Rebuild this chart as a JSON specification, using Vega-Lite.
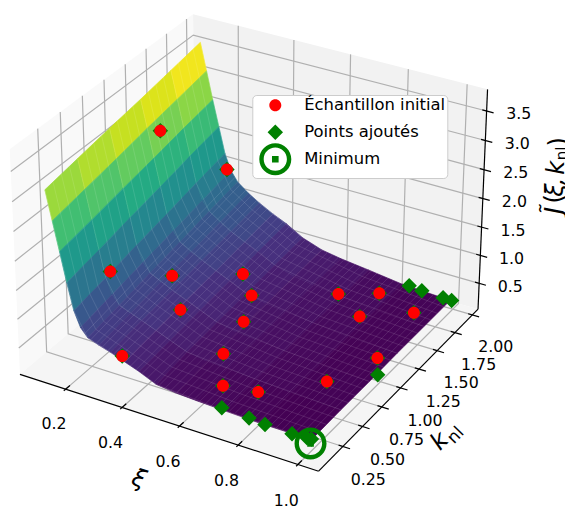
{"$schema":"https://vega.github.io/schema/vega-lite/v6.json","width":565,"height":509,"padding":0,"autosize":"none","background":"white","config":{"view":{"stroke":null},"font":"DejaVu Sans"},
"encoding":{"x":{"field":"px","type":"quantitative","scale":{"domain":[0,565],"range":[0,565],"nice":false,"zero":false},"axis":null},"y":{"field":"py","type":"quantitative","scale":{"domain":[0,509],"range":[0,509],"nice":false,"zero":false},"axis":null}},
"datasets":{
"panes":[{"wall":"x","xi":[0.035,0.035,0.035,0.035],"k":[-0.0534,2.083,2.083,-0.0534],"z":[0.034,0.034,3.863,3.863],"i":[0,1,2,3]},{"wall":"y","xi":[0.035,1.0685,1.0685,0.035],"k":[2.083,2.083,2.083,2.083],"z":[0.034,0.034,3.863,3.863],"i":[0,1,2,3]},{"wall":"z","xi":[0.035,1.0685,1.0685,0.035],"k":[-0.0534,-0.0534,2.083,2.083],"z":[0.034,0.034,0.034,0.034],"i":[0,1,2,3]}],
"grid":[
{"id":"x1","xi":[0.2,0.2,0.2],"k":[-0.0534,2.083,2.083],"z":[0.034,0.034,3.863]},{"id":"x2","xi":[0.4,0.4,0.4],"k":[-0.0534,2.083,2.083],"z":[0.034,0.034,3.863]},{"id":"x3","xi":[0.6,0.6,0.6],"k":[-0.0534,2.083,2.083],"z":[0.034,0.034,3.863]},{"id":"x4","xi":[0.8,0.8,0.8],"k":[-0.0534,2.083,2.083],"z":[0.034,0.034,3.863]},{"id":"x5","xi":[1.0,1.0,1.0],"k":[-0.0534,2.083,2.083],"z":[0.034,0.034,3.863]},
{"id":"k1","xi":[1.0685,0.035,0.035],"k":[0.25,0.25,0.25],"z":[0.034,0.034,3.863]},{"id":"k2","xi":[1.0685,0.035,0.035],"k":[0.5,0.5,0.5],"z":[0.034,0.034,3.863]},{"id":"k3","xi":[1.0685,0.035,0.035],"k":[0.75,0.75,0.75],"z":[0.034,0.034,3.863]},{"id":"k4","xi":[1.0685,0.035,0.035],"k":[1.0,1.0,1.0],"z":[0.034,0.034,3.863]},{"id":"k5","xi":[1.0685,0.035,0.035],"k":[1.25,1.25,1.25],"z":[0.034,0.034,3.863]},{"id":"k6","xi":[1.0685,0.035,0.035],"k":[1.5,1.5,1.5],"z":[0.034,0.034,3.863]},{"id":"k7","xi":[1.0685,0.035,0.035],"k":[1.75,1.75,1.75],"z":[0.034,0.034,3.863]},{"id":"k8","xi":[1.0685,0.035,0.035],"k":[2.0,2.0,2.0],"z":[0.034,0.034,3.863]},
{"id":"z1","xi":[0.035,0.035,1.0685],"k":[-0.0534,2.083,2.083],"z":[0.5,0.5,0.5]},{"id":"z2","xi":[0.035,0.035,1.0685],"k":[-0.0534,2.083,2.083],"z":[1,1,1]},{"id":"z3","xi":[0.035,0.035,1.0685],"k":[-0.0534,2.083,2.083],"z":[1.5,1.5,1.5]},{"id":"z4","xi":[0.035,0.035,1.0685],"k":[-0.0534,2.083,2.083],"z":[2,2,2]},{"id":"z5","xi":[0.035,0.035,1.0685],"k":[-0.0534,2.083,2.083],"z":[2.5,2.5,2.5]},{"id":"z6","xi":[0.035,0.035,1.0685],"k":[-0.0534,2.083,2.083],"z":[3,3,3]},{"id":"z7","xi":[0.035,0.035,1.0685],"k":[-0.0534,2.083,2.083],"z":[3.5,3.5,3.5]}],
"axes":[
{"id":"ax","xi":[0.035,1.0685],"k":[-0.0534,-0.0534],"z":[0.034,0.034]},{"id":"ak","xi":[1.0685,1.0685],"k":[-0.0534,2.083],"z":[0.034,0.034]},{"id":"az","xi":[1.0685,1.0685],"k":[2.083,2.083],"z":[0.034,3.863]},
{"id":"t1","xi":[0.2,0.2],"k":[-0.075,-0.005],"z":[0.034,0.034]},{"id":"t2","xi":[0.4,0.4],"k":[-0.075,-0.005],"z":[0.034,0.034]},{"id":"t3","xi":[0.6,0.6],"k":[-0.075,-0.005],"z":[0.034,0.034]},{"id":"t4","xi":[0.8,0.8],"k":[-0.075,-0.005],"z":[0.034,0.034]},{"id":"t5","xi":[1.0,1.0],"k":[-0.075,-0.005],"z":[0.034,0.034]},
{"id":"u1","xi":[1.054,1.092],"k":[0.25,0.25],"z":[0.034,0.034]},{"id":"u2","xi":[1.054,1.092],"k":[0.5,0.5],"z":[0.034,0.034]},{"id":"u3","xi":[1.054,1.092],"k":[0.75,0.75],"z":[0.034,0.034]},{"id":"u4","xi":[1.054,1.092],"k":[1,1],"z":[0.034,0.034]},{"id":"u5","xi":[1.054,1.092],"k":[1.25,1.25],"z":[0.034,0.034]},{"id":"u6","xi":[1.054,1.092],"k":[1.5,1.5],"z":[0.034,0.034]},{"id":"u7","xi":[1.054,1.092],"k":[1.75,1.75],"z":[0.034,0.034]},{"id":"u8","xi":[1.054,1.092],"k":[2,2],"z":[0.034,0.034]},
{"id":"v1","xi":[1.054,1.092],"k":[2.083,2.083],"z":[0.5,0.5]},{"id":"v2","xi":[1.054,1.092],"k":[2.083,2.083],"z":[1,1]},{"id":"v3","xi":[1.054,1.092],"k":[2.083,2.083],"z":[1.5,1.5]},{"id":"v4","xi":[1.054,1.092],"k":[2.083,2.083],"z":[2,2]},{"id":"v5","xi":[1.054,1.092],"k":[2.083,2.083],"z":[2.5,2.5]},{"id":"v6","xi":[1.054,1.092],"k":[2.083,2.083],"z":[3,3]},{"id":"v7","xi":[1.054,1.092],"k":[2.083,2.083],"z":[3.5,3.5]}],
"cells":[
{"a":0.085,"b":0.107,"c":0.15,"d":0.52,"z":[3.03,2.54,2.64,3.13]},{"a":0.085,"b":0.107,"c":0.52,"d":0.89,"z":[3.13,2.64,2.74,3.23]},{"a":0.085,"b":0.107,"c":0.89,"d":1.26,"z":[3.23,2.74,2.85,3.32]},{"a":0.085,"b":0.107,"c":1.26,"d":1.63,"z":[3.32,2.85,2.95,3.42]},{"a":0.085,"b":0.107,"c":1.63,"d":2,"z":[3.42,2.95,3.05,3.52]},
{"a":0.107,"b":0.129,"c":0.15,"d":0.52,"z":[2.54,2.05,2.15,2.64]},{"a":0.107,"b":0.129,"c":0.52,"d":0.89,"z":[2.64,2.15,2.26,2.74]},{"a":0.107,"b":0.129,"c":0.89,"d":1.26,"z":[2.74,2.26,2.36,2.85]},{"a":0.107,"b":0.129,"c":1.26,"d":1.63,"z":[2.85,2.36,2.47,2.95]},{"a":0.107,"b":0.129,"c":1.63,"d":2,"z":[2.95,2.47,2.57,3.05]},
{"a":0.129,"b":0.151,"c":0.15,"d":0.52,"z":[2.05,1.55,1.66,2.15]},{"a":0.129,"b":0.151,"c":0.52,"d":0.89,"z":[2.15,1.66,1.78,2.26]},{"a":0.129,"b":0.151,"c":0.89,"d":1.26,"z":[2.26,1.78,1.89,2.36]},{"a":0.129,"b":0.151,"c":1.26,"d":1.63,"z":[2.36,1.89,2.01,2.47]},{"a":0.129,"b":0.151,"c":1.63,"d":2,"z":[2.47,2.01,2.12,2.57]},
{"a":0.151,"b":0.173,"c":0.15,"d":0.52,"z":[1.55,1.1,1.21,1.66]},{"a":0.151,"b":0.173,"c":0.52,"d":0.89,"z":[1.66,1.21,1.33,1.78]},{"a":0.151,"b":0.173,"c":0.89,"d":1.26,"z":[1.78,1.33,1.44,1.89]},{"a":0.151,"b":0.173,"c":1.26,"d":1.63,"z":[1.89,1.44,1.56,2.01]},{"a":0.151,"b":0.173,"c":1.63,"d":2,"z":[2.01,1.56,1.67,2.12]},
{"a":0.173,"b":0.195,"c":0.15,"d":0.52,"z":[1.1,0.84,0.95,1.21]},{"a":0.173,"b":0.195,"c":0.52,"d":0.89,"z":[1.21,0.95,1.06,1.33]},{"a":0.173,"b":0.195,"c":0.89,"d":1.26,"z":[1.33,1.06,1.17,1.44]},{"a":0.173,"b":0.195,"c":1.26,"d":1.63,"z":[1.44,1.17,1.28,1.56]},{"a":0.173,"b":0.195,"c":1.63,"d":2,"z":[1.56,1.28,1.39,1.67]},
{"a":0.195,"b":0.22,"c":0.15,"d":0.52,"z":[0.84,0.7,0.8,0.95]},{"a":0.195,"b":0.22,"c":0.52,"d":0.89,"z":[0.95,0.8,0.91,1.06]},{"a":0.195,"b":0.22,"c":0.89,"d":1.26,"z":[1.06,0.91,1.01,1.17]},{"a":0.195,"b":0.22,"c":1.26,"d":1.63,"z":[1.17,1.01,1.12,1.28]},{"a":0.195,"b":0.22,"c":1.63,"d":2,"z":[1.28,1.12,1.22,1.39]},
{"a":0.22,"b":0.26,"c":0.15,"d":0.52,"z":[0.7,0.63,0.72,0.8]},{"a":0.22,"b":0.26,"c":0.52,"d":0.89,"z":[0.8,0.72,0.81,0.91]},{"a":0.22,"b":0.26,"c":0.89,"d":1.26,"z":[0.91,0.81,0.89,1.01]},{"a":0.22,"b":0.26,"c":1.26,"d":1.63,"z":[1.01,0.89,0.98,1.12]},{"a":0.22,"b":0.26,"c":1.63,"d":2,"z":[1.12,0.98,1.07,1.22]},
{"a":0.26,"b":0.3,"c":0.15,"d":0.52,"z":[0.63,0.57,0.65,0.72]},{"a":0.26,"b":0.3,"c":0.52,"d":0.89,"z":[0.72,0.65,0.72,0.81]},{"a":0.26,"b":0.3,"c":0.89,"d":1.26,"z":[0.81,0.72,0.8,0.89]},{"a":0.26,"b":0.3,"c":1.26,"d":1.63,"z":[0.89,0.8,0.87,0.98]},{"a":0.26,"b":0.3,"c":1.63,"d":2,"z":[0.98,0.87,0.95,1.07]},
{"a":0.3,"b":0.35,"c":0.15,"d":0.52,"z":[0.57,0.48,0.55,0.65]},{"a":0.3,"b":0.35,"c":0.52,"d":0.89,"z":[0.65,0.55,0.62,0.72]},{"a":0.3,"b":0.35,"c":0.89,"d":1.26,"z":[0.72,0.62,0.68,0.8]},{"a":0.3,"b":0.35,"c":1.26,"d":1.63,"z":[0.8,0.68,0.75,0.87]},{"a":0.3,"b":0.35,"c":1.63,"d":2,"z":[0.87,0.75,0.82,0.95]},
{"a":0.35,"b":0.4,"c":0.15,"d":0.52,"z":[0.48,0.39,0.45,0.55]},{"a":0.35,"b":0.4,"c":0.52,"d":0.89,"z":[0.55,0.45,0.52,0.62]},{"a":0.35,"b":0.4,"c":0.89,"d":1.26,"z":[0.62,0.52,0.58,0.68]},{"a":0.35,"b":0.4,"c":1.26,"d":1.63,"z":[0.68,0.58,0.65,0.75]},{"a":0.35,"b":0.4,"c":1.63,"d":2,"z":[0.75,0.65,0.71,0.82]},
{"a":0.4,"b":0.46,"c":0.15,"d":0.52,"z":[0.39,0.26,0.34,0.45]},{"a":0.4,"b":0.46,"c":0.52,"d":0.89,"z":[0.45,0.34,0.39,0.52]},{"a":0.4,"b":0.46,"c":0.89,"d":1.26,"z":[0.52,0.39,0.44,0.58]},{"a":0.4,"b":0.46,"c":1.26,"d":1.63,"z":[0.58,0.44,0.49,0.65]},{"a":0.4,"b":0.46,"c":1.63,"d":2,"z":[0.65,0.49,0.54,0.71]},
{"a":0.46,"b":0.53,"c":0.15,"d":0.52,"z":[0.26,0.22,0.29,0.34]},{"a":0.46,"b":0.53,"c":0.52,"d":0.89,"z":[0.34,0.29,0.32,0.39]},{"a":0.46,"b":0.53,"c":0.89,"d":1.26,"z":[0.39,0.32,0.36,0.44]},{"a":0.46,"b":0.53,"c":1.26,"d":1.63,"z":[0.44,0.36,0.39,0.49]},{"a":0.46,"b":0.53,"c":1.63,"d":2,"z":[0.49,0.39,0.42,0.54]},
{"a":0.53,"b":0.6,"c":0.15,"d":0.52,"z":[0.22,0.2,0.27,0.29]},{"a":0.53,"b":0.6,"c":0.52,"d":0.89,"z":[0.29,0.27,0.29,0.32]},{"a":0.53,"b":0.6,"c":0.89,"d":1.26,"z":[0.32,0.29,0.32,0.36]},{"a":0.53,"b":0.6,"c":1.26,"d":1.63,"z":[0.36,0.32,0.34,0.39]},{"a":0.53,"b":0.6,"c":1.63,"d":2,"z":[0.39,0.34,0.36,0.42]},
{"a":0.6,"b":0.7,"c":0.15,"d":0.52,"z":[0.2,0.18,0.24,0.27]},{"a":0.6,"b":0.7,"c":0.52,"d":0.89,"z":[0.27,0.24,0.25,0.29]},{"a":0.6,"b":0.7,"c":0.89,"d":1.26,"z":[0.29,0.25,0.27,0.32]},{"a":0.6,"b":0.7,"c":1.26,"d":1.63,"z":[0.32,0.27,0.28,0.34]},{"a":0.6,"b":0.7,"c":1.63,"d":2,"z":[0.34,0.28,0.3,0.36]},
{"a":0.7,"b":0.82,"c":0.15,"d":0.52,"z":[0.18,0.16,0.2,0.24]},{"a":0.7,"b":0.82,"c":0.52,"d":0.89,"z":[0.24,0.2,0.2,0.25]},{"a":0.7,"b":0.82,"c":0.89,"d":1.26,"z":[0.25,0.2,0.21,0.27]},{"a":0.7,"b":0.82,"c":1.26,"d":1.63,"z":[0.27,0.21,0.21,0.28]},{"a":0.7,"b":0.82,"c":1.63,"d":2,"z":[0.28,0.21,0.22,0.3]},
{"a":0.82,"b":0.99,"c":0.15,"d":0.52,"z":[0.16,0.16,0.17,0.2]},{"a":0.82,"b":0.99,"c":0.52,"d":0.89,"z":[0.2,0.17,0.17,0.2]},{"a":0.82,"b":0.99,"c":0.89,"d":1.26,"z":[0.2,0.17,0.18,0.21]},{"a":0.82,"b":0.99,"c":1.26,"d":1.63,"z":[0.21,0.18,0.18,0.21]},{"a":0.82,"b":0.99,"c":1.63,"d":2,"z":[0.21,0.18,0.18,0.22]}],
"meshk":[
{"k":0.15,"z":[3.03,1.1,0.7,0.57,0.26,0.18,0.16]},{"k":0.2425,"z":[3.05,1.13,0.73,0.59,0.3,0.22,0.17]},{"k":0.335,"z":[3.08,1.16,0.75,0.61,0.32,0.23,0.17]},{"k":0.4275,"z":[3.1,1.19,0.78,0.63,0.33,0.23,0.17]},{"k":0.52,"z":[3.13,1.21,0.8,0.65,0.34,0.24,0.17]},{"k":0.6125,"z":[3.15,1.24,0.83,0.67,0.35,0.24,0.17]},{"k":0.705,"z":[3.18,1.27,0.86,0.68,0.37,0.24,0.17]},{"k":0.7975,"z":[3.2,1.3,0.88,0.7,0.38,0.25,0.17]},{"k":0.89,"z":[3.23,1.33,0.91,0.72,0.39,0.25,0.17]},{"k":0.9825,"z":[3.25,1.36,0.93,0.74,0.4,0.26,0.17]},{"k":1.075,"z":[3.28,1.39,0.96,0.76,0.42,0.26,0.18]},{"k":1.1675,"z":[3.3,1.41,0.99,0.78,0.43,0.26,0.18]},{"k":1.26,"z":[3.32,1.44,1.01,0.8,0.44,0.27,0.18]},{"k":1.3525,"z":[3.35,1.47,1.04,0.82,0.45,0.27,0.18]},{"k":1.445,"z":[3.37,1.5,1.06,0.84,0.47,0.28,0.18]},{"k":1.5375,"z":[3.4,1.53,1.09,0.86,0.48,0.28,0.18]},{"k":1.63,"z":[3.42,1.56,1.12,0.87,0.49,0.28,0.18]},{"k":1.7225,"z":[3.45,1.58,1.14,0.89,0.5,0.29,0.18]},{"k":1.815,"z":[3.47,1.61,1.17,0.91,0.52,0.29,0.18]},{"k":1.9075,"z":[3.5,1.64,1.19,0.93,0.53,0.3,0.18]},{"k":2,"z":[3.52,1.67,1.22,0.95,0.54,0.3,0.18]}],
"meshx":[
{"xi":0.21,"z":[0.76,1.29]},{"xi":0.23,"z":[0.68,1.19]},{"xi":0.25,"z":[0.65,1.11]},{"xi":0.27,"z":[0.61,1.04]},{"xi":0.29,"z":[0.58,0.98]},{"xi":0.31,"z":[0.55,0.93]},{"xi":0.33,"z":[0.52,0.89]},{"xi":0.35,"z":[0.48,0.82]},{"xi":0.37,"z":[0.44,0.79]},{"xi":0.39,"z":[0.41,0.74]},{"xi":0.41,"z":[0.37,0.67]},{"xi":0.43,"z":[0.33,0.63]},{"xi":0.45,"z":[0.28,0.58]},{"xi":0.47,"z":[0.26,0.52]},{"xi":0.49,"z":[0.24,0.49]},{"xi":0.51,"z":[0.23,0.45]},{"xi":0.53,"z":[0.22,0.42]},{"xi":0.55,"z":[0.22,0.4]},{"xi":0.57,"z":[0.21,0.39]},{"xi":0.59,"z":[0.2,0.37]},{"xi":0.61,"z":[0.2,0.35]},{"xi":0.63,"z":[0.19,0.34]},{"xi":0.65,"z":[0.19,0.33]},{"xi":0.67,"z":[0.19,0.32]},{"xi":0.69,"z":[0.18,0.31]},{"xi":0.71,"z":[0.18,0.3]},{"xi":0.73,"z":[0.18,0.29]},{"xi":0.75,"z":[0.17,0.27]},{"xi":0.77,"z":[0.17,0.26]},{"xi":0.79,"z":[0.17,0.24]},{"xi":0.81,"z":[0.16,0.22]},{"xi":0.83,"z":[0.16,0.22]},{"xi":0.85,"z":[0.16,0.21]},{"xi":0.87,"z":[0.16,0.21]},{"xi":0.89,"z":[0.16,0.2]},{"xi":0.91,"z":[0.16,0.2]},{"xi":0.93,"z":[0.16,0.19]},{"xi":0.95,"z":[0.16,0.19]},{"xi":0.97,"z":[0.16,0.18]}],
"pts":[
{"s":"Points ajoutés","xi":0.118,"k":1.38,"z":2.69},{"s":"Points ajoutés","xi":0.18,"k":2.0,"z":1.39},{"s":"Points ajoutés","xi":0.167,"k":0.594,"z":1.22},{"s":"Points ajoutés","xi":0.263,"k":1.013,"z":0.77},{"s":"Points ajoutés","xi":0.405,"k":1.41,"z":0.52},{"s":"Points ajoutés","xi":0.47,"k":1.29,"z":0.38},{"s":"Points ajoutés","xi":0.35,"k":0.816,"z":0.54},{"s":"Points ajoutés","xi":0.517,"k":1.02,"z":0.32},{"s":"Points ajoutés","xi":0.329,"k":0.19,"z":0.5},{"s":"Points ajoutés","xi":0.55,"k":0.65,"z":0.28},{"s":"Points ajoutés","xi":0.631,"k":0.36,"z":0.23},{"s":"Points ajoutés","xi":0.733,"k":0.43,"z":0.19},{"s":"Points ajoutés","xi":0.685,"k":1.643,"z":0.285},{"s":"Points ajoutés","xi":0.783,"k":1.827,"z":0.215},{"s":"Points ajoutés","xi":0.793,"k":1.52,"z":0.2},{"s":"Points ajoutés","xi":0.927,"k":1.74,"z":0.19},{"s":"Points ajoutés","xi":0.953,"k":1.14,"z":0.195},{"s":"Points ajoutés","xi":0.885,"k":0.737,"z":0.204},
{"s":"Points ajoutés","xi":0.684,"k":0.16,"z":0.2},{"s":"Points ajoutés","xi":0.78,"k":0.15,"z":0.19},{"s":"Points ajoutés","xi":0.834,"k":0.15,"z":0.165},{"s":"Points ajoutés","xi":0.925,"k":0.15,"z":0.155},{"s":"Points ajoutés","xi":0.975,"k":0.15,"z":0.17},{"s":"Points ajoutés","xi":0.99,"k":0.15,"z":0.17},{"s":"Points ajoutés","xi":1.0,"k":0.96,"z":0.21},{"s":"Points ajoutés","xi":0.845,"k":2,"z":0.23},{"s":"Points ajoutés","xi":0.89,"k":2,"z":0.205},{"s":"Points ajoutés","xi":0.965,"k":2,"z":0.19},{"s":"Points ajoutés","xi":0.995,"k":2,"z":0.185},
{"s":"Échantillon initial","xi":0.118,"k":1.38,"z":2.69},{"s":"Échantillon initial","xi":0.18,"k":2.0,"z":1.39},{"s":"Échantillon initial","xi":0.167,"k":0.594,"z":1.22},{"s":"Échantillon initial","xi":0.263,"k":1.013,"z":0.77},{"s":"Échantillon initial","xi":0.405,"k":1.41,"z":0.52},{"s":"Échantillon initial","xi":0.47,"k":1.29,"z":0.38},{"s":"Échantillon initial","xi":0.35,"k":0.816,"z":0.54},{"s":"Échantillon initial","xi":0.517,"k":1.02,"z":0.32},{"s":"Échantillon initial","xi":0.329,"k":0.19,"z":0.5},{"s":"Échantillon initial","xi":0.55,"k":0.65,"z":0.28},{"s":"Échantillon initial","xi":0.631,"k":0.36,"z":0.23},{"s":"Échantillon initial","xi":0.733,"k":0.43,"z":0.19},{"s":"Échantillon initial","xi":0.685,"k":1.643,"z":0.285},{"s":"Échantillon initial","xi":0.783,"k":1.827,"z":0.215},{"s":"Échantillon initial","xi":0.793,"k":1.52,"z":0.2},{"s":"Échantillon initial","xi":0.927,"k":1.74,"z":0.19},{"s":"Échantillon initial","xi":0.953,"k":1.14,"z":0.195},{"s":"Échantillon initial","xi":0.885,"k":0.737,"z":0.204},
{"s":"Minimum","xi":0.987,"k":0.15,"z":0.09}],
"labels":[
{"t":"0.2","xi":0.204,"k":-0.207,"z":-0.366},{"t":"0.4","xi":0.404,"k":-0.207,"z":-0.366},{"t":"0.6","xi":0.604,"k":-0.207,"z":-0.366},{"t":"0.8","xi":0.804,"k":-0.207,"z":-0.366},{"t":"1.0","xi":1.004,"k":-0.207,"z":-0.366},
{"t":"0.25","xi":1.154,"k":0.25,"z":-0.41},{"t":"0.50","xi":1.154,"k":0.5,"z":-0.41},{"t":"0.75","xi":1.154,"k":0.75,"z":-0.41},{"t":"1.00","xi":1.154,"k":1,"z":-0.41},{"t":"1.25","xi":1.154,"k":1.25,"z":-0.41},{"t":"1.50","xi":1.154,"k":1.5,"z":-0.41},{"t":"1.75","xi":1.154,"k":1.75,"z":-0.41},{"t":"2.00","xi":1.154,"k":2,"z":-0.41},
{"t":"0.5","xi":1.175,"k":2.083,"z":0.59},{"t":"1.0","xi":1.175,"k":2.083,"z":1.09},{"t":"1.5","xi":1.175,"k":2.083,"z":1.59},{"t":"2.0","xi":1.175,"k":2.083,"z":2.09},{"t":"2.5","xi":1.175,"k":2.083,"z":2.59},{"t":"3.0","xi":1.175,"k":2.083,"z":3.09},{"t":"3.5","xi":1.175,"k":2.083,"z":3.59}],
"txi":[{"t":"ξ","xi":0.57,"k":-0.43,"z":-0.42}],
"tk":[{"t":"k","xi":1.222,"k":0.93,"z":-0.57}],
"tknl":[{"t":"nl","xi":1.235,"k":1.1,"z":-0.68}],
"tj":[{"t":"J̃","xi":1.31,"k":2.083,"z":2.13},{"t":"ξ","xi":1.31,"k":2.083,"z":2.48},{"t":",","xi":1.31,"k":2.083,"z":2.63},{"t":"k","xi":1.31,"k":2.083,"z":2.86}],
"tjnl":[{"t":"nl","xi":1.322,"k":2.083,"z":3.12}],
"tjp":[{"t":"(","xi":1.31,"k":2.083,"z":2.33},{"t":")","xi":1.31,"k":2.083,"z":3.3}]
},
"layer":[
{"data":{"name":"panes"},"transform":[{"flatten":["xi","k","z","i"]},{"calculate":"((datum.xi-0.035)/1.0335-0.5)*1.1245","as":"X"},{"calculate":"((datum.k+0.0534)/2.1364-0.5)*1.1245","as":"Y"},{"calculate":"((datum.z-0.034)/3.829-0.5)*0.8433","as":"Z"},{"calculate":"1-(0.433*datum.X-0.75*datum.Y+0.5*datum.Z)/10","as":"w"},{"calculate":"253+304.4*(0.866*datum.X+0.5*datum.Y)/datum.w","as":"px"},{"calculate":"232.3-304.4*(-0.25*datum.X+0.433*datum.Y+0.866*datum.Z)/datum.w","as":"py"}],
"mark":{"type":"line","strokeWidth":0,"interpolate":"linear-closed"},
"encoding":{"order":{"field":"i"},"detail":{"field":"wall"},"fill":{"field":"wall","type":"nominal","scale":{"domain":["x","y","z"],"range":["#f9f9f9","#f2f2f2","#f5f5f5"]},"legend":null}}},
{"data":{"name":"grid"},"transform":[{"flatten":["xi","k","z"]},{"window":[{"op":"row_number","as":"i"}],"groupby":["id"]},{"calculate":"((datum.xi-0.035)/1.0335-0.5)*1.1245","as":"X"},{"calculate":"((datum.k+0.0534)/2.1364-0.5)*1.1245","as":"Y"},{"calculate":"((datum.z-0.034)/3.829-0.5)*0.8433","as":"Z"},{"calculate":"1-(0.433*datum.X-0.75*datum.Y+0.5*datum.Z)/10","as":"w"},{"calculate":"253+304.4*(0.866*datum.X+0.5*datum.Y)/datum.w","as":"px"},{"calculate":"232.3-304.4*(-0.25*datum.X+0.433*datum.Y+0.866*datum.Z)/datum.w","as":"py"}],
"mark":{"type":"line","color":"#b0b0b0","strokeWidth":1.2},
"encoding":{"order":{"field":"i"},"detail":{"field":"id"}}},
{"data":{"name":"axes"},"transform":[{"flatten":["xi","k","z"]},{"window":[{"op":"row_number","as":"i"}],"groupby":["id"]},{"calculate":"((datum.xi-0.035)/1.0335-0.5)*1.1245","as":"X"},{"calculate":"((datum.k+0.0534)/2.1364-0.5)*1.1245","as":"Y"},{"calculate":"((datum.z-0.034)/3.829-0.5)*0.8433","as":"Z"},{"calculate":"1-(0.433*datum.X-0.75*datum.Y+0.5*datum.Z)/10","as":"w"},{"calculate":"253+304.4*(0.866*datum.X+0.5*datum.Y)/datum.w","as":"px"},{"calculate":"232.3-304.4*(-0.25*datum.X+0.433*datum.Y+0.866*datum.Z)/datum.w","as":"py"}],
"mark":{"type":"line","color":"#000000","strokeWidth":1.2},
"encoding":{"order":{"field":"i"},"detail":{"field":"id"}}},
{"data":{"name":"cells"},"transform":[{"window":[{"op":"row_number","as":"cell"}]},{"calculate":"[datum.a,datum.b,datum.b,datum.a]","as":"xi"},{"calculate":"[datum.c,datum.c,datum.d,datum.d]","as":"k"},{"calculate":"(datum.z[0]+datum.z[1]+datum.z[2]+datum.z[3])/4","as":"J"},{"calculate":"[0,1,2,3]","as":"i"},{"flatten":["xi","k","z","i"]},{"calculate":"((datum.xi-0.035)/1.0335-0.5)*1.1245","as":"X"},{"calculate":"((datum.k+0.0534)/2.1364-0.5)*1.1245","as":"Y"},{"calculate":"((datum.z-0.034)/3.829-0.5)*0.8433","as":"Z"},{"calculate":"1-(0.433*datum.X-0.75*datum.Y+0.5*datum.Z)/10","as":"w"},{"calculate":"253+304.4*(0.866*datum.X+0.5*datum.Y)/datum.w","as":"px"},{"calculate":"232.3-304.4*(-0.25*datum.X+0.433*datum.Y+0.866*datum.Z)/datum.w","as":"py"}],
"mark":{"type":"line","strokeWidth":0.7,"interpolate":"linear-closed"},
"encoding":{"order":{"field":"i"},"detail":{"field":"cell"},"fill":{"field":"J","type":"quantitative","scale":{"scheme":"viridis","domain":[0.17,3.3]},"legend":null},"stroke":{"field":"J","type":"quantitative","scale":{"scheme":"viridis","domain":[0.17,3.3]},"legend":null}}},
{"data":{"name":"meshk"},"transform":[{"calculate":"[0.085,0.173,0.22,0.3,0.46,0.7,0.99]","as":"xi"},{"calculate":"[0,1,2,3,4,5,6]","as":"i"},{"flatten":["xi","z","i"]},{"calculate":"((datum.xi-0.035)/1.0335-0.5)*1.1245","as":"X"},{"calculate":"((datum.k+0.0534)/2.1364-0.5)*1.1245","as":"Y"},{"calculate":"((datum.z-0.034)/3.829-0.5)*0.8433","as":"Z"},{"calculate":"1-(0.433*datum.X-0.75*datum.Y+0.5*datum.Z)/10","as":"w"},{"calculate":"253+304.4*(0.866*datum.X+0.5*datum.Y)/datum.w","as":"px"},{"calculate":"232.3-304.4*(-0.25*datum.X+0.433*datum.Y+0.866*datum.Z)/datum.w","as":"py"}],
"mark":{"type":"line","color":"#ffffff","strokeWidth":0.7,"opacity":0.16},
"encoding":{"order":{"field":"i"},"detail":{"field":"k"}}},
{"data":{"name":"meshx"},"transform":[{"calculate":"[0.15,2]","as":"k"},{"calculate":"[0,1]","as":"i"},{"flatten":["k","z","i"]},{"calculate":"((datum.xi-0.035)/1.0335-0.5)*1.1245","as":"X"},{"calculate":"((datum.k+0.0534)/2.1364-0.5)*1.1245","as":"Y"},{"calculate":"((datum.z-0.034)/3.829-0.5)*0.8433","as":"Z"},{"calculate":"1-(0.433*datum.X-0.75*datum.Y+0.5*datum.Z)/10","as":"w"},{"calculate":"253+304.4*(0.866*datum.X+0.5*datum.Y)/datum.w","as":"px"},{"calculate":"232.3-304.4*(-0.25*datum.X+0.433*datum.Y+0.866*datum.Z)/datum.w","as":"py"}],
"mark":{"type":"line","color":"#ffffff","strokeWidth":0.7,"opacity":0.16},
"encoding":{"order":{"field":"i"},"detail":{"field":"xi"}}},
{"data":{"name":"pts"},"transform":[{"calculate":"((datum.xi-0.035)/1.0335-0.5)*1.1245","as":"X"},{"calculate":"((datum.k+0.0534)/2.1364-0.5)*1.1245","as":"Y"},{"calculate":"((datum.z-0.034)/3.829-0.5)*0.8433","as":"Z"},{"calculate":"1-(0.433*datum.X-0.75*datum.Y+0.5*datum.Z)/10","as":"w"},{"calculate":"253+304.4*(0.866*datum.X+0.5*datum.Y)/datum.w","as":"px"},{"calculate":"232.3-304.4*(-0.25*datum.X+0.433*datum.Y+0.866*datum.Z)/datum.w","as":"py"}],
"mark":{"type":"point","filled":true,"size":64,"opacity":1},
"encoding":{
"color":{"field":"s","type":"nominal","sort":null,"scale":{"domain":["Échantillon initial","Points ajoutés","Minimum"],"range":["#ff0000","#008000","#008000"]},"legend":{"title":null,"orient":"none","legendX":252.3,"legendY":95,"labelFontSize":16.4,"labelFont":"DejaVu Sans","labelColor":"#000000","symbolSize":64,"symbolStrokeWidth":0,"symbolOffset":12.8,"labelOffset":20.7,"rowPadding":-6,"padding":2,"fillColor":"#ffffff","strokeColor":"#cccccc","cornerRadius":4,"labelLimit":300}},
"shape":{"field":"s","type":"nominal","scale":{"domain":["Échantillon initial","Points ajoutés","Minimum"],"range":["M-4,-4ZM4,4ZM-1.5,0A1.5,1.5,0,1,1,1.5,0A1.5,1.5,0,1,1,-1.5,0Z","M-4,-4ZM4,4ZM0,-1.93L1.93,0L0,1.93L-1.93,0Z","M-4,0A4,4,0,1,1,4,0A4,4,0,1,1,-4,0ZM-2.9,0A2.9,2.9,0,1,0,2.9,0A2.9,2.9,0,1,0,-2.9,0ZM-0.83,-0.83H0.83V0.83H-0.83Z"]}}}},
{"data":{"name":"labels"},"transform":[{"calculate":"((datum.xi-0.035)/1.0335-0.5)*1.1245","as":"X"},{"calculate":"((datum.k+0.0534)/2.1364-0.5)*1.1245","as":"Y"},{"calculate":"((datum.z-0.034)/3.829-0.5)*0.8433","as":"Z"},{"calculate":"1-(0.433*datum.X-0.75*datum.Y+0.5*datum.Z)/10","as":"w"},{"calculate":"253+304.4*(0.866*datum.X+0.5*datum.Y)/datum.w","as":"px"},{"calculate":"232.3-304.4*(-0.25*datum.X+0.433*datum.Y+0.866*datum.Z)/datum.w","as":"py"}],
"mark":{"type":"text","fontSize":15.8,"font":"DejaVu Sans","color":"#000000","align":"center","baseline":"middle"},
"encoding":{"text":{"field":"t"}}},
{"data":{"name":"txi"},"transform":[{"calculate":"((datum.xi-0.035)/1.0335-0.5)*1.1245","as":"X"},{"calculate":"((datum.k+0.0534)/2.1364-0.5)*1.1245","as":"Y"},{"calculate":"((datum.z-0.034)/3.829-0.5)*0.8433","as":"Z"},{"calculate":"1-(0.433*datum.X-0.75*datum.Y+0.5*datum.Z)/10","as":"w"},{"calculate":"253+304.4*(0.866*datum.X+0.5*datum.Y)/datum.w","as":"px"},{"calculate":"232.3-304.4*(-0.25*datum.X+0.433*datum.Y+0.866*datum.Z)/datum.w","as":"py"}],
"mark":{"type":"text","fontSize":24,"font":"DejaVu Sans","fontStyle":"italic","angle":18,"color":"#000000","align":"center","baseline":"middle"},
"encoding":{"text":{"field":"t"}}},
{"data":{"name":"tk"},"transform":[{"calculate":"((datum.xi-0.035)/1.0335-0.5)*1.1245","as":"X"},{"calculate":"((datum.k+0.0534)/2.1364-0.5)*1.1245","as":"Y"},{"calculate":"((datum.z-0.034)/3.829-0.5)*0.8433","as":"Z"},{"calculate":"1-(0.433*datum.X-0.75*datum.Y+0.5*datum.Z)/10","as":"w"},{"calculate":"253+304.4*(0.866*datum.X+0.5*datum.Y)/datum.w","as":"px"},{"calculate":"232.3-304.4*(-0.25*datum.X+0.433*datum.Y+0.866*datum.Z)/datum.w","as":"py"}],
"mark":{"type":"text","fontSize":24,"font":"DejaVu Sans","fontStyle":"italic","angle":-46,"color":"#000000","align":"center","baseline":"middle"},
"encoding":{"text":{"field":"t"}}},
{"data":{"name":"tknl"},"transform":[{"calculate":"((datum.xi-0.035)/1.0335-0.5)*1.1245","as":"X"},{"calculate":"((datum.k+0.0534)/2.1364-0.5)*1.1245","as":"Y"},{"calculate":"((datum.z-0.034)/3.829-0.5)*0.8433","as":"Z"},{"calculate":"1-(0.433*datum.X-0.75*datum.Y+0.5*datum.Z)/10","as":"w"},{"calculate":"253+304.4*(0.866*datum.X+0.5*datum.Y)/datum.w","as":"px"},{"calculate":"232.3-304.4*(-0.25*datum.X+0.433*datum.Y+0.866*datum.Z)/datum.w","as":"py"}],
"mark":{"type":"text","fontSize":17,"font":"DejaVu Sans","angle":-46,"color":"#000000","align":"center","baseline":"middle"},
"encoding":{"text":{"field":"t"}}},
{"data":{"name":"tj"},"transform":[{"calculate":"((datum.xi-0.035)/1.0335-0.5)*1.1245","as":"X"},{"calculate":"((datum.k+0.0534)/2.1364-0.5)*1.1245","as":"Y"},{"calculate":"((datum.z-0.034)/3.829-0.5)*0.8433","as":"Z"},{"calculate":"1-(0.433*datum.X-0.75*datum.Y+0.5*datum.Z)/10","as":"w"},{"calculate":"253+304.4*(0.866*datum.X+0.5*datum.Y)/datum.w","as":"px"},{"calculate":"232.3-304.4*(-0.25*datum.X+0.433*datum.Y+0.866*datum.Z)/datum.w","as":"py"}],
"mark":{"type":"text","fontSize":24,"font":"DejaVu Sans","fontStyle":"italic","angle":-90,"color":"#000000","align":"center","baseline":"middle"},
"encoding":{"text":{"field":"t"}}},
{"data":{"name":"tjnl"},"transform":[{"calculate":"((datum.xi-0.035)/1.0335-0.5)*1.1245","as":"X"},{"calculate":"((datum.k+0.0534)/2.1364-0.5)*1.1245","as":"Y"},{"calculate":"((datum.z-0.034)/3.829-0.5)*0.8433","as":"Z"},{"calculate":"1-(0.433*datum.X-0.75*datum.Y+0.5*datum.Z)/10","as":"w"},{"calculate":"253+304.4*(0.866*datum.X+0.5*datum.Y)/datum.w","as":"px"},{"calculate":"232.3-304.4*(-0.25*datum.X+0.433*datum.Y+0.866*datum.Z)/datum.w","as":"py"}],
"mark":{"type":"text","fontSize":15,"font":"DejaVu Sans","angle":-90,"color":"#000000","align":"center","baseline":"middle"},
"encoding":{"text":{"field":"t"}}},
{"data":{"name":"tjp"},"transform":[{"calculate":"((datum.xi-0.035)/1.0335-0.5)*1.1245","as":"X"},{"calculate":"((datum.k+0.0534)/2.1364-0.5)*1.1245","as":"Y"},{"calculate":"((datum.z-0.034)/3.829-0.5)*0.8433","as":"Z"},{"calculate":"1-(0.433*datum.X-0.75*datum.Y+0.5*datum.Z)/10","as":"w"},{"calculate":"253+304.4*(0.866*datum.X+0.5*datum.Y)/datum.w","as":"px"},{"calculate":"232.3-304.4*(-0.25*datum.X+0.433*datum.Y+0.866*datum.Z)/datum.w","as":"py"}],
"mark":{"type":"text","fontSize":24,"font":"DejaVu Sans","angle":-90,"color":"#000000","align":"center","baseline":"middle"},
"encoding":{"text":{"field":"t"}}}
],
"resolve":{"scale":{"fill":"independent","stroke":"independent"}}}
